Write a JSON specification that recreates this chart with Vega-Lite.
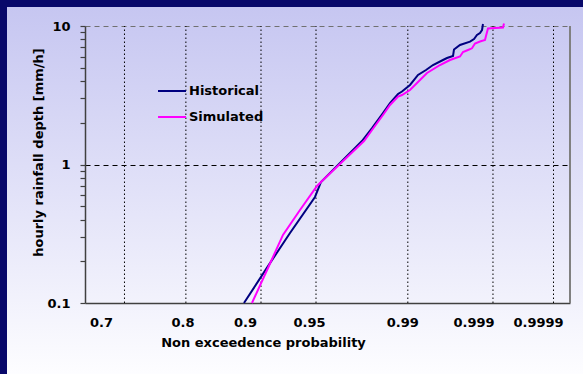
{
  "$schema": "https://vega.github.io/schema/vega-lite/v6.json",
  "width": 576,
  "height": 367,
  "autosize": {"type": "none"},
  "padding": {"left": 7, "top": 7, "right": 0, "bottom": 0},
  "background": "#08086a",
  "config": {
    "font": "DejaVu Sans",
    "view": {
      "stroke": null,
      "fill": {"gradient": "linear", "x1": 0, "y1": 0, "x2": 0, "y2": 1,
        "stops": [{"offset": 0, "color": "#c6c6f1"}, {"offset": 1, "color": "#fdfdff"}]}
    },
    "axis": {"labelFont": "DejaVu Sans", "labelFontWeight": "bold", "labelFontSize": 13, "labelColor": "black",
      "titleFont": "DejaVu Sans", "titleFontWeight": "bold", "titleFontSize": 13, "titleColor": "black"}
  },
  "datasets": {
    "gridlines": [
      {"g": 0.814}, {"g": 2.08}, {"g": 3.629}, {"g": 4.763}, {"g": 6.656}, {"g": 8.412}, {"g": 9.66}
    ],
    "curves": [
      {"series": "Historical", "u": 3.278, "depth": 0.1},
      {"series": "Historical", "u": 3.814, "depth": 0.194},
      {"series": "Historical", "u": 4.227, "depth": 0.320},
      {"series": "Historical", "u": 4.742, "depth": 0.583},
      {"series": "Historical", "u": 4.866, "depth": 0.748},
      {"series": "Historical", "u": 5.258, "depth": 1.025},
      {"series": "Historical", "u": 5.711, "depth": 1.478},
      {"series": "Historical", "u": 5.918, "depth": 1.834},
      {"series": "Historical", "u": 6.144, "depth": 2.354},
      {"series": "Historical", "u": 6.289, "depth": 2.78},
      {"series": "Historical", "u": 6.454, "depth": 3.228},
      {"series": "Historical", "u": 6.536, "depth": 3.365},
      {"series": "Historical", "u": 6.701, "depth": 3.75},
      {"series": "Historical", "u": 6.866, "depth": 4.428},
      {"series": "Historical", "u": 7.031, "depth": 4.812},
      {"series": "Historical", "u": 7.175, "depth": 5.228},
      {"series": "Historical", "u": 7.381, "depth": 5.682},
      {"series": "Historical", "u": 7.464, "depth": 5.875},
      {"series": "Historical", "u": 7.588, "depth": 6.073},
      {"series": "Historical", "u": 7.608, "depth": 6.766},
      {"series": "Historical", "u": 7.732, "depth": 7.293},
      {"series": "Historical", "u": 7.938, "depth": 7.704},
      {"series": "Historical", "u": 8.021, "depth": 8.056},
      {"series": "Historical", "u": 8.082, "depth": 8.61},
      {"series": "Historical", "u": 8.144, "depth": 8.903},
      {"series": "Historical", "u": 8.186, "depth": 9.357},
      {"series": "Historical", "u": 8.206, "depth": 10.34},
      {"series": "Simulated", "u": 3.443, "depth": 0.1},
      {"series": "Simulated", "u": 3.773, "depth": 0.179},
      {"series": "Simulated", "u": 4.082, "depth": 0.310},
      {"series": "Simulated", "u": 4.433, "depth": 0.469},
      {"series": "Simulated", "u": 4.784, "depth": 0.700},
      {"series": "Simulated", "u": 4.866, "depth": 0.748},
      {"series": "Simulated", "u": 5.299, "depth": 1.042},
      {"series": "Simulated", "u": 5.753, "depth": 1.478},
      {"series": "Simulated", "u": 5.918, "depth": 1.775},
      {"series": "Simulated", "u": 6.144, "depth": 2.277},
      {"series": "Simulated", "u": 6.289, "depth": 2.689},
      {"series": "Simulated", "u": 6.454, "depth": 3.097},
      {"series": "Simulated", "u": 6.536, "depth": 3.176},
      {"series": "Simulated", "u": 6.701, "depth": 3.45},
      {"series": "Simulated", "u": 6.907, "depth": 4.075},
      {"series": "Simulated", "u": 7.052, "depth": 4.577},
      {"series": "Simulated", "u": 7.32, "depth": 5.228},
      {"series": "Simulated", "u": 7.526, "depth": 5.682},
      {"series": "Simulated", "u": 7.732, "depth": 6.022},
      {"series": "Simulated", "u": 7.794, "depth": 6.492},
      {"series": "Simulated", "u": 7.897, "depth": 6.711},
      {"series": "Simulated", "u": 7.979, "depth": 6.902},
      {"series": "Simulated", "u": 8.041, "depth": 7.475},
      {"series": "Simulated", "u": 8.144, "depth": 7.727},
      {"series": "Simulated", "u": 8.247, "depth": 7.923},
      {"series": "Simulated", "u": 8.268, "depth": 8.47},
      {"series": "Simulated", "u": 8.309, "depth": 9.594},
      {"series": "Simulated", "u": 8.619, "depth": 9.754},
      {"series": "Simulated", "u": 8.639, "depth": 10.42}
    ]
  },
  "layer": [
    {
      "data": {"name": "gridlines"},
      "mark": {"type": "rule", "color": "black", "strokeWidth": 1, "strokeDash": [1.5, 2.5]},
      "encoding": {
        "x": {"field": "g", "type": "quantitative"},
        "y": {"datum": 0.1},
        "y2": {"datum": 10}
      }
    },
    {
      "data": {"name": "curves"},
      "mark": {"type": "line", "strokeWidth": 2, "clip": false},
      "encoding": {
        "x": {"field": "u", "type": "quantitative",
          "scale": {"domain": [0, 10], "nice": false, "zero": false, "range": [78, 563]},
          "axis": {
            "offset": -71,
            "values": [0.33, 2.01, 3.3, 4.62, 6.54, 8.01, 9.34],
            "labelExpr": "datum.value == 0.33 ? '0.7' : datum.value == 2.01 ? '0.8' : datum.value == 3.3 ? '0.9' : datum.value == 4.62 ? '0.95' : datum.value == 6.54 ? '0.99' : datum.value == 8.01 ? '0.999' : datum.value == 9.34 ? '0.9999' : ''",
            "labelBaseline": "top",
            "labelPadding": 13,
            "labelOverlap": false,
            "labelFlush": false,
            "ticks": false,
            "domainColor": "#404040",
            "domainWidth": 1.5,
            "grid": false,
            "title": "Non exceedence probability",
            "titleX": 256,
            "titleY": 39,
            "titleAlign": "center",
            "titleBaseline": "middle",
            "titleAnchor": null
          }
        },
        "y": {"field": "depth", "type": "quantitative",
          "scale": {"type": "log", "domain": [0.1, 10], "nice": false, "range": [296, 19]},
          "axis": {
            "offset": -78,
            "values": [0.1, 0.2, 0.3, 0.4, 0.5, 0.6, 0.7, 0.8, 0.9, 1, 2, 3, 4, 5, 6, 7, 8, 9, 10],
            "labelExpr": "datum.value == 0.1 ? '0.1' : datum.value == 1 ? '1' : datum.value == 10 ? '10' : ''",
            "labelPadding": 10,
            "labelOverlap": false,
            "labelFlush": false,
            "labelBaseline": "middle",
            "ticks": true,
            "tickSize": 5,
            "tickWidth": 1.2,
            "tickColor": "#404040",
            "domainColor": "#404040",
            "domainWidth": 1.5,
            "grid": true,
            "gridDash": [5, 4],
            "gridColor": {"condition": {"test": "datum.value == 10", "value": "#707070"}, "value": "black"},
            "gridOpacity": {"condition": {"test": "datum.value == 1 || datum.value == 10", "value": 1}, "value": 0},
            "title": "hourly rainfall depth [mm/h]",
            "titleX": -47,
            "titleY": 145,
            "titleAngle": 270,
            "titleAlign": "center",
            "titleBaseline": "middle"
          }
        },
        "color": {"field": "series", "type": "nominal",
          "scale": {"domain": ["Historical", "Simulated"], "range": ["#000080", "#ff00ff"]},
          "legend": {
            "title": null,
            "orient": "none",
            "legendX": 150,
            "legendY": 77,
            "symbolType": "stroke",
            "symbolSize": 784,
            "symbolStrokeWidth": 2,
            "clipHeight": 14,
            "rowPadding": 12,
            "labelOffset": 2,
            "labelFont": "DejaVu Sans",
            "labelFontWeight": "bold",
            "labelFontSize": 13,
            "labelColor": "black"
          }
        }
      }
    },
    {
      "data": {"name": "curves"},
      "mark": {"type": "rule", "color": "#808080", "strokeWidth": 1.5},
      "encoding": {"x": {"datum": 10}, "y": {"datum": 0.1}, "y2": {"datum": 10}}
    }
  ]
}
